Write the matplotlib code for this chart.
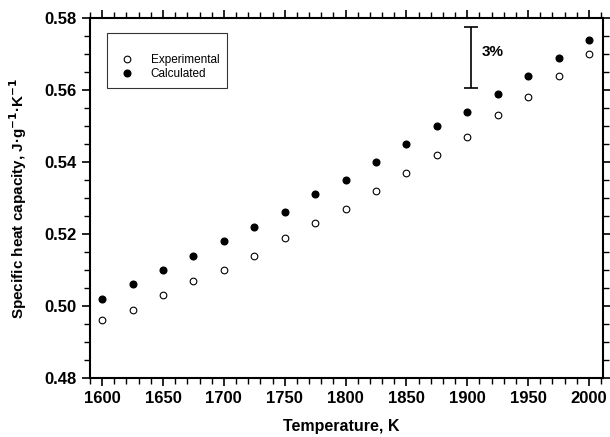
import matplotlib
matplotlib.use('Agg')
import matplotlib.pyplot as plt
from matplotlib.ticker import MultipleLocator, FormatStrFormatter

plt.rcParams['font.family'] = ['Liberation Sans', 'DejaVu Sans']
plt.rcParams['font.weight'] = 'bold'

temps = [1600, 1625, 1650, 1675, 1700, 1725, 1750, 1775, 1800,
         1825, 1850, 1875, 1900, 1925, 1950, 1975, 2000]
experimental = [0.496, 0.499, 0.503, 0.507, 0.510, 0.514, 0.519, 0.523, 0.527,
                0.532, 0.537, 0.542, 0.547, 0.553, 0.558, 0.564, 0.570]
calculated = [0.502, 0.506, 0.510, 0.514, 0.518, 0.522, 0.526, 0.531, 0.535,
              0.540, 0.545, 0.550, 0.554, 0.559, 0.564, 0.569, 0.574]

# 3% scale bar
bar_x = 1903
bar_lo, bar_hi = 0.5605, 0.5774

fig = plt.figure(figsize=(6.1, 4.37), dpi=100)
ax = fig.add_axes([0.1475, 0.135, 0.841, 0.824])

ax.plot(temps, experimental, 'o', mfc='white', mec='black', mew=0.8, ms=4.8, label='Experimental')
ax.plot(temps, calculated, 'o', mfc='black', mec='black', ms=4.8, label='Calculated')

mid = (bar_lo + bar_hi) / 2
ax.errorbar([bar_x], [mid], yerr=[(bar_hi - bar_lo) / 2], fmt='none', ecolor='black',
            elinewidth=1.2, capsize=5, capthick=1.2)
ax.text(1912, 0.5705, '3%', fontsize=11, fontweight='bold', va='center', ha='left')

ax.set_xlim(1590, 2011.5)
ax.set_ylim(0.48, 0.58)
ax.xaxis.set_major_locator(MultipleLocator(50))
ax.xaxis.set_minor_locator(MultipleLocator(10))
ax.yaxis.set_major_locator(MultipleLocator(0.02))
ax.yaxis.set_minor_locator(MultipleLocator(0.005))
ax.yaxis.set_major_formatter(FormatStrFormatter('%.2f'))

ax.tick_params(which='both', direction='out', top=True, right=True, labeltop=False, labelright=False)
ax.tick_params(which='major', length=6, width=1.2, labelsize=12)
ax.tick_params(which='minor', length=4, width=1.0)
for s in ax.spines.values():
    s.set_linewidth(1.5)

ax.set_xlabel('Temperature, K', fontsize=11.5, fontweight='bold')
ax.xaxis.set_label_coords(0.49, -0.115)
ax.set_ylabel('Specific heat capacity, J·g$^{\\mathbf{-1}}$·K$^{\\mathbf{-1}}$', fontsize=11, fontweight='bold')
ax.yaxis.set_label_coords(-0.119, 0.5)

leg = ax.legend(loc='upper left', bbox_to_anchor=(0.033, 0.958), frameon=True, fancybox=False,
                edgecolor='black', fontsize=8.5, title=' ', title_fontsize=9,
                handletextpad=1.0, borderpad=0.7, borderaxespad=0, handlelength=2.0,
                labelspacing=0.1)
leg.get_frame().set_linewidth(0.8)
for t in leg.get_texts():
    t.set_fontweight('normal')

fig.savefig('out.png', dpi=100)
